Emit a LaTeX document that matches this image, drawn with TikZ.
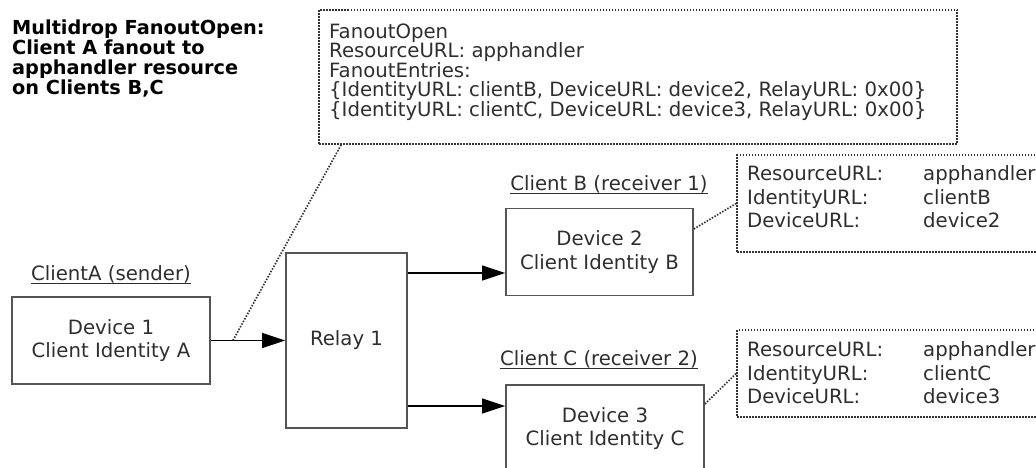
\documentclass[tikz,border=0pt]{standalone}
\usepackage{fontspec}
\setmainfont{DejaVu Sans}
\usetikzlibrary{arrows.meta}
\definecolor{txt}{HTML}{2E2E2E}
\definecolor{edge}{HTML}{555555}
\definecolor{dots}{HTML}{333333}
\newcommand{\myul}[1]{\setbox0\hbox{#1}\rlap{\rule[-3.8pt]{\wd0}{1.3pt}}\box0}
\begin{document}
\begin{tikzpicture}[x=1pt,y=-1pt,
  every node/.style={text=txt, font={\fontsize{19.7}{23.5}\selectfont}},
  devbox/.style={draw=edge, line width=1.8pt, align=center, inner sep=0pt},
  dotbox/.style={draw=dots, line width=1.7pt, dash pattern=on 1.5pt off 1.5pt, inner sep=0pt},
  dotline/.style={draw=dots, line width=1.7pt, dash pattern=on 1.5pt off 1.5pt},
  arr/.style={draw=black, line width=1.5pt, -{Triangle[length=23pt,width=15pt]}},
  lbl/.style={anchor=base, inner sep=0pt},
  txtblock/.style={anchor=north west, align=left, inner sep=0pt}
]
\path[use as bounding box] (0,0) rectangle (1036,468);
\clip (0,0) rectangle (1036,468);

% title
\node[txtblock, text=black, font={\fontsize{19.3}{20}\selectfont\bfseries}] (title) at (12,19.5)
  {Multidrop FanoutOpen:\\Client A fanout to\\apphandler resource\\on Clients B,C};

% top message box
\node[dotbox, minimum width=638pt, minimum height=134pt] (fo) at (638,77) {};
\node[txtblock, font={\fontsize{19.7}{19.5}\selectfont}] (fotext) at (329,23.5)
  {FanoutOpen\\ResourceURL: apphandler\\FanoutEntries:\\
   \{IdentityURL: clientB, DeviceURL: device2, RelayURL: 0x00\}\\
   \{IdentityURL: clientC, DeviceURL: device3, RelayURL: 0x00\}};

% devices
\node[devbox, minimum width=198pt, minimum height=87pt] (dev1) at (111,340.5) {Device 1\\Client Identity A};
\node[devbox, minimum width=121pt, minimum height=175pt] (relay) at (346.5,340.5) {Relay 1};
\node[devbox, minimum width=187pt, minimum height=87pt] (dev2) at (599.5,252) {Device 2\\Client Identity B};
\node[devbox, minimum width=198pt, minimum height=87pt] (dev3) at (605,428.5) {Device 3\\Client Identity C};

% labels
\node[lbl] (lblA) at (111,280) {\myul{ClientA (sender)}};
\node[lbl] (lblB) at (609,190) {\myul{Client B (receiver 1)}};
\node[lbl] (lblC) at (599,365) {\myul{Client C (receiver 2)}};

% info boxes
\node[dotbox, minimum width=363pt, minimum height=97pt] (infoB) at (918.5,203.5) {};
\node[txtblock] (infoBtext) at (747,165.5)
  {\makebox[176pt][l]{ResourceURL:}apphandler\\\makebox[176pt][l]{IdentityURL:}clientB\\\makebox[176pt][l]{DeviceURL:}device2};
\node[dotbox, minimum width=363pt, minimum height=87pt] (infoC) at (918.5,373.5) {};
\node[txtblock] (infoCtext) at (747,341.5)
  {\makebox[176pt][l]{ResourceURL:}apphandler\\\makebox[176pt][l]{IdentityURL:}clientC\\\makebox[176pt][l]{DeviceURL:}device3};

% arrows
\draw[arr] (dev1) -- (relay);
\coordinate (ro1) at ([yshift=67.5pt]relay.east);
\coordinate (ro2) at ([yshift=-65.5pt]relay.east);
\draw[arr] (ro1) -- (ro1 -| dev2.west);
\draw[arr] (ro2) -- (ro2 -| dev3.west);

% dotted callouts
\coordinate (tap) at ([xshift=22pt]dev1.east);
\draw[dotline] ([xshift=23pt]fo.south west) -- (tap);
\draw[dotline] ([yshift=23pt]dev2.east) -- (infoB.west);
\draw[dotline] ([yshift=24.5pt]dev3.east) -- (infoC.west);
\end{tikzpicture}
\end{document}
